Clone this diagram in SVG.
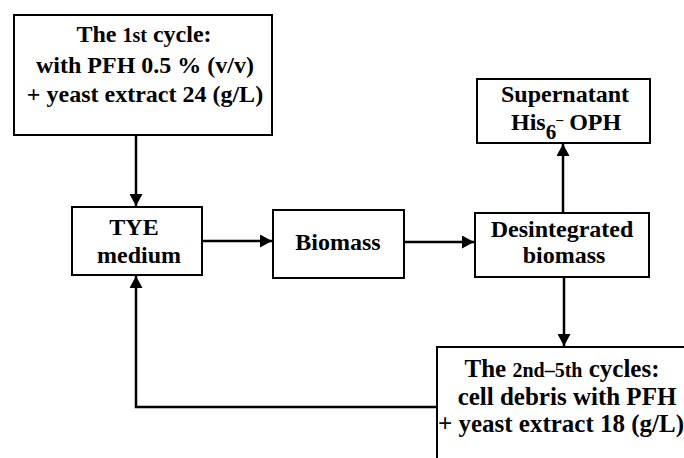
<svg xmlns="http://www.w3.org/2000/svg" width="684" height="458" viewBox="0 0 684 458">
<style>
rect.box{fill:#fff;stroke:#000;stroke-width:2}
text{font-family:'Liberation Serif','Times New Roman',serif;font-weight:bold;font-size:24px;fill:#000}
.c{text-anchor:middle}
.sm{font-size:20px}
.big{font-size:25px}
.conn{fill:none;stroke:#000;stroke-width:2.5}
</style>
<defs>
<marker id="ah" markerUnits="userSpaceOnUse" markerWidth="13" markerHeight="13" refX="12" refY="6.5" orient="auto">
<path d="M0,0 L12,6.5 L0,13 z" fill="#000"/>
</marker>
</defs>
<g id="connectors">
<path class="conn" d="M136,135 V206" marker-end="url(#ah)"/>
<path class="conn" d="M202,241 H272" marker-end="url(#ah)"/>
<path class="conn" d="M404,242 H474" marker-end="url(#ah)"/>
<path class="conn" d="M563,213 V144" marker-end="url(#ah)"/>
<path class="conn" d="M564,277 V346" marker-end="url(#ah)"/>
<path class="conn" d="M437,407 H136 V276" marker-end="url(#ah)"/>
</g>
<g id="cycle1">
<rect class="box" x="14" y="15" width="258" height="120"/>
<text class="c" x="144" y="42">The <tspan class="sm">1st</tspan> cycle:</text>
<text class="c" x="145" y="73">with PFH 0.5 % (v/v)</text>
<text class="c" x="145" y="102">+ yeast extract 24 (g/L)</text>
</g>
<g id="tye">
<rect class="box" x="72" y="207" width="130" height="68"/>
<text class="c" x="134" y="235">TYE</text>
<text class="c" x="139" y="263">medium</text>
</g>
<g id="biomass">
<rect class="box" x="273" y="210" width="131" height="68"/>
<text class="c" x="338" y="250">Biomass</text>
</g>
<g id="desintegrated">
<rect class="box" x="475" y="213" width="174" height="64"/>
<text class="c" x="562" y="237">Desintegrated</text>
<text class="c" x="564" y="263">biomass</text>
</g>
<g id="supernatant">
<rect class="box" x="477" y="79" width="173" height="64"/>
<text class="c" x="565" y="102">Supernatant</text>
<text x="511" y="130">His<tspan dy="9" font-size="21">6</tspan><tspan dy="-15" font-size="14">–</tspan><tspan dy="6"> OPH</tspan></text>
</g>
<g id="cycles2to5">
<rect class="box" x="437" y="347" width="262" height="130"/>
<text class="c big" x="562" y="377">The <tspan class="sm">2nd</tspan><tspan class="sm">–</tspan><tspan class="sm">5th</tspan> cycles:</text>
<text class="c big" x="567" y="405">cell debris with PFH</text>
<text class="c big" x="561" y="432">+ yeast extract 18 (g/L)</text>
</g>
</svg>
